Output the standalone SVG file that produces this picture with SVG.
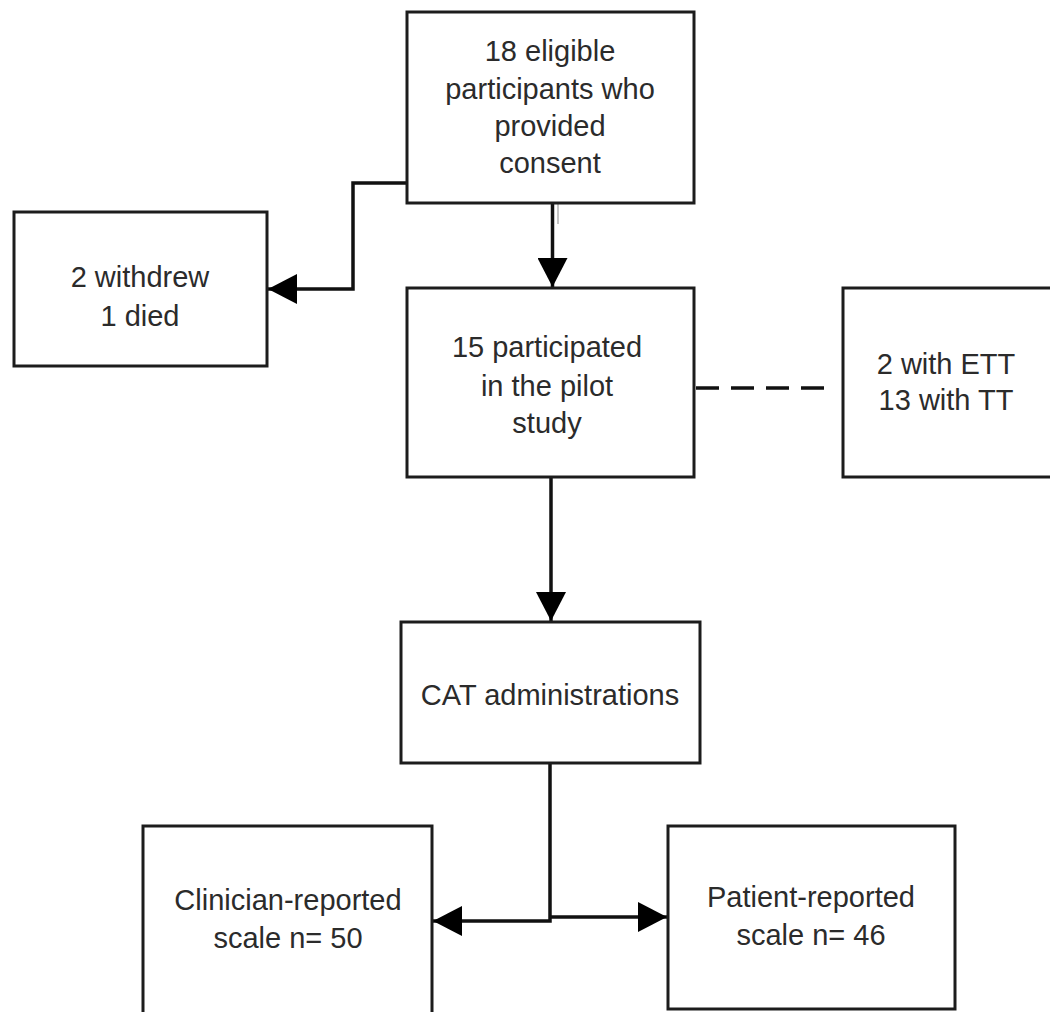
<svg xmlns="http://www.w3.org/2000/svg" width="1050" height="1012" viewBox="0 0 1050 1012">
<defs>
<style>
.box{fill:#ffffff;stroke:#1c1c1c;stroke-width:3}
.lbl{font-family:"Liberation Sans",Arial,sans-serif;font-size:29px;fill:#2b2b2b;text-anchor:middle}
.lbl-l{font-family:"Liberation Sans",Arial,sans-serif;font-size:29px;fill:#2b2b2b;text-anchor:start}
.con{fill:none;stroke:#111111;stroke-width:3.5}
.dash{fill:none;stroke:#111111;stroke-width:3.5;stroke-dasharray:23 12}
</style>
<marker id="arr" markerUnits="userSpaceOnUse" markerWidth="30" markerHeight="30" refX="29" refY="15" orient="auto">
<path d="M0,0 L29,15 L0,30 Z" fill="#000000"/>
</marker>
</defs>
<rect width="1050" height="1012" fill="#ffffff"/>

<g id="connectors">
<path class="con" d="M406,183 H353 V289 H268" marker-end="url(#arr)"/>
<path class="con" d="M552.5,204 V287" marker-end="url(#arr)"/>
<line x1="558" y1="197" x2="558" y2="224" stroke="#c4c4c4" stroke-width="2"/>
<path class="dash" d="M696,388 H826"/>
<path class="con" d="M551,477 V621" marker-end="url(#arr)"/>
<path class="con" d="M550,763 V921 H433" marker-end="url(#arr)"/>
<path class="con" d="M550,917 H667" marker-end="url(#arr)"/>
</g>

<g id="node-consent">
<rect class="box" x="407" y="12" width="287" height="191"/>
<text class="lbl" x="550" y="61">18 eligible</text>
<text class="lbl" x="550" y="99">participants who</text>
<text class="lbl" x="550" y="136">provided</text>
<text class="lbl" x="550" y="173">consent</text>
</g>

<g id="node-withdrew">
<rect class="box" x="14" y="212" width="253" height="154"/>
<text class="lbl" x="140" y="287">2 withdrew</text>
<text class="lbl" x="140" y="326">1 died</text>
</g>

<g id="node-pilot">
<rect class="box" x="407" y="288" width="287" height="189"/>
<text class="lbl" x="547" y="357">15 participated</text>
<text class="lbl" x="547" y="396">in the pilot</text>
<text class="lbl" x="547" y="433">study</text>
</g>

<g id="node-tubes">
<rect class="box" x="843" y="288" width="215" height="189"/>
<text class="lbl" x="946" y="374">2 with ETT</text>
<text class="lbl" x="946" y="410">13 with TT</text>
</g>

<g id="node-cat">
<rect class="box" x="401" y="622" width="299" height="141"/>
<text class="lbl" x="550" y="705">CAT administrations</text>
</g>

<g id="node-clinician">
<rect class="box" x="143" y="826" width="289" height="200"/>
<text class="lbl" x="288" y="910">Clinician-reported</text>
<text class="lbl" x="288" y="948">scale n= 50</text>
</g>

<g id="node-patient">
<rect class="box" x="668" y="826" width="287" height="183"/>
<text class="lbl" x="811" y="907">Patient-reported</text>
<text class="lbl" x="811" y="945">scale n= 46</text>
</g>
</svg>
